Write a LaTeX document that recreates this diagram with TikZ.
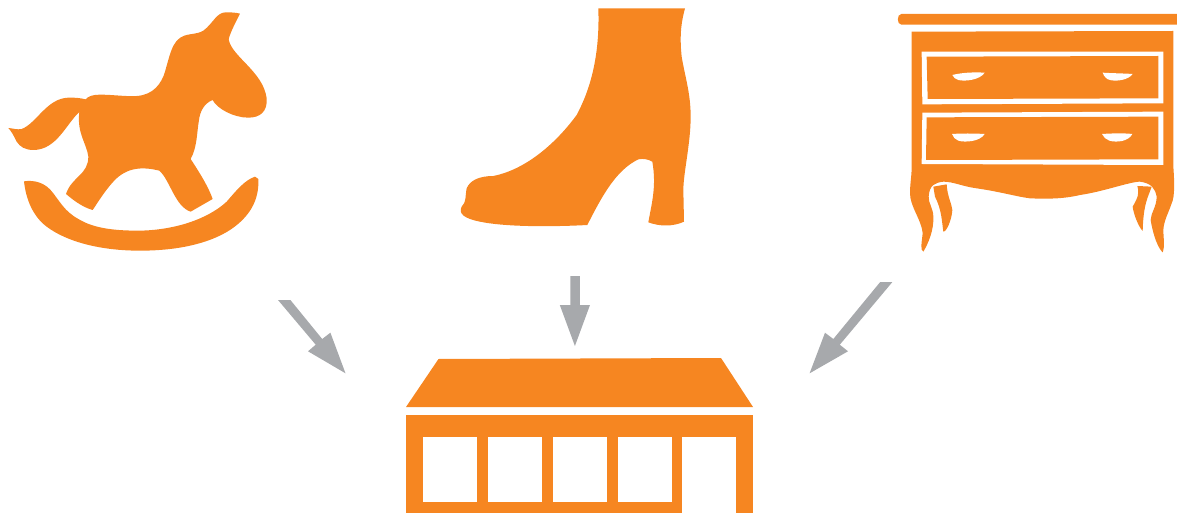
\documentclass[tikz,border=0pt]{standalone}
\definecolor{brandorange}{HTML}{F68621}
\definecolor{arrowgray}{HTML}{A7A9AC}
\tikzset{
  iconfill/.style={fill=brandorange,draw=none},
  arrowfill/.style={fill=arrowgray,draw=none},
  cutfill/.style={fill=white,draw=none},
  zoomed/.style={x=0.33333pt,y=-0.33333pt}
}
\begin{document}
\begin{tikzpicture}[x=1pt,y=-1pt]
\useasboundingbox (0,0) rectangle (1177,513);
% rocking horse
\begin{scope}[zoomed]
\fill[iconfill] (720,41) .. controls (705,70) and (690,100) .. (686,118)
 .. controls (695,170) and (790,215) .. (800,295)
 .. controls (803,335) and (780,353) .. (745,353)
 .. controls (700,353) and (650,325) .. (638,300)
 .. controls (612,310) and (600,335) .. (597,360)
 .. controls (590,400) and (592,440) .. (572,477)
 .. controls (600,520) and (625,560) .. (638,597)
 -- (572,635)
 .. controls (525,620) and (510,540) .. (478,512)
 .. controls (430,500) and (380,500) .. (340,545)
 .. controls (315,572) and (295,605) .. (278,630)
 .. controls (250,622) and (225,605) .. (198,582)
 .. controls (215,530) and (265,525) .. (265,470)
 .. controls (260,430) and (230,400) .. (238,336)
 .. controls (200,370) and (170,450) .. (100,450)
 .. controls (75,450) and (60,440) .. (50,425)
 .. controls (40,405) and (35,395) .. (25,384)
 .. controls (40,385) and (50,390) .. (65,387)
 .. controls (110,370) and (140,295) .. (205,293)
 .. controls (225,292) and (245,295) .. (257,298)
 .. controls (265,288) and (280,284) .. (300,284)
 .. controls (340,284) and (375,290) .. (410,288)
 .. controls (460,285) and (485,250) .. (495,215)
 .. controls (515,145) and (520,110) .. (570,103)
 .. controls (590,100) and (600,98) .. (610,92)
 .. controls (640,70) and (650,35) .. (680,37)
 .. controls (695,37) and (710,38) .. (720,41) -- cycle;
\fill[iconfill] (72,544) .. controls (100,540) and (135,545) .. (160,580)
 .. controls (190,620) and (200,640) .. (250,665)
 .. controls (300,690) and (370,692) .. (420,692)
 .. controls (520,690) and (620,660) .. (680,605)
 .. controls (710,570) and (735,540) .. (765,530)
 -- (775,537)
 .. controls (778,600) and (750,650) .. (690,690)
 .. controls (620,735) and (520,752) .. (420,752)
 .. controls (300,752) and (200,725) .. (140,680)
 .. controls (100,650) and (78,600) .. (72,544) -- cycle;
\end{scope}
% boot
\begin{scope}[shift={(440,0)},zoomed]
\fill[iconfill] (475,25) -- (735,25)
 .. controls (720,80) and (720,120) .. (725,170)
 .. controls (735,230) and (752,280) .. (752,350)
 .. controls (752,430) and (730,520) .. (730,570)
 -- (732,665)
 .. controls (700,680) and (660,680) .. (625,667)
 .. controls (635,610) and (650,560) .. (637,485)
 .. controls (625,478) and (610,475) .. (595,478)
 .. controls (530,510) and (490,580) .. (442,675)
 .. controls (350,680) and (200,682) .. (120,665)
 .. controls (70,655) and (55,640) .. (65,620)
 .. controls (80,605) and (75,590) .. (80,565)
 .. controls (90,540) and (120,528) .. (160,528)
 .. controls (250,510) and (340,440) .. (410,345)
 .. controls (450,270) and (480,170) .. (475,25) -- cycle;
\end{scope}
% chest of drawers
\begin{scope}[shift={(890,0)},zoomed]
\fill[iconfill] (861,42) -- (34,42) .. controls (20,42) and (20,74) .. (34,74) -- (861,74) -- cycle;
\fill[iconfill] (65,95) -- (850,93) -- (850,500)
 .. controls (853,540) and (855,590) .. (845,610)
 .. controls (835,640) and (822,660) .. (820,690)
 .. controls (820,710) and (825,740) .. (818,757)
 .. controls (805,745) and (790,710) .. (782,660)
 .. controls (782,640) and (800,620) .. (800,590)
 .. controls (795,565) and (785,550) .. (750,545)
 .. controls (720,545) and (640,575) .. (570,585)
 .. controls (520,597) and (470,597) .. (420,595)
 .. controls (380,590) and (330,575) .. (260,565)
 .. controls (220,560) and (190,545) .. (160,545)
 .. controls (135,548) and (118,555) .. (116,590)
 .. controls (115,610) and (130,625) .. (130,650)
 .. controls (132,690) and (115,730) .. (100,755)
 .. controls (90,750) and (95,730) .. (98,700)
 .. controls (95,660) and (60,620) .. (60,580)
 .. controls (60,550) and (65,530) .. (65,500) -- cycle;
\fill[iconfill] (130,560) -- (170,553) .. controls (172,590) and (185,610) .. (187,630)
 .. controls (185,660) and (170,695) .. (160,695)
 .. controls (155,660) and (155,630) .. (135,590) -- cycle;
\fill[iconfill] (742,558) -- (785,560) .. controls (775,590) and (760,610) .. (758,693)
 .. controls (745,680) and (730,640) .. (728,620)
 .. controls (745,590) and (748,580) .. (742,558) -- cycle;
\fill[cutfill] (95,155) -- (820,155) -- (820,310) -- (97,313) -- cycle;
\fill[iconfill] (110,170) -- (805,168) -- (805,295) -- (113,297) -- cycle;
\fill[cutfill] (97,338) -- (820,335) -- (820,495) -- (95,492) -- cycle;
\fill[iconfill] (110,352) -- (805,350) -- (805,478) -- (108,480) -- cycle;
\fill[cutfill] (187,225) .. controls (215,218) and (250,216) .. (284,218) .. controls (270,240) and (225,245) .. (205,240) .. controls (197,238) and (190,232) .. (187,225) -- cycle;
\fill[cutfill] (638,218) .. controls (670,220) and (700,220) .. (728,222) .. controls (715,240) and (680,245) .. (660,240) .. controls (650,238) and (642,230) .. (638,218) -- cycle;
\fill[cutfill] (186,402) .. controls (215,400) and (250,400) .. (284,402) .. controls (270,425) and (225,428) .. (205,422) .. controls (195,418) and (190,412) .. (186,402) -- cycle;
\fill[cutfill] (636,402) .. controls (665,400) and (700,399) .. (727,402) .. controls (715,425) and (680,428) .. (658,422) .. controls (648,418) and (640,412) .. (636,402) -- cycle;
\end{scope}
% store
\fill[iconfill] (438.5,359) -- (721,358) -- (753,407) -- (406,407) -- cycle;
\fill[iconfill] (406,415) -- (753,415) -- (753,513) -- (406,513) -- cycle;
\fill[cutfill] (423,437) rectangle (477,501.5);
\fill[cutfill] (487.5,437) rectangle (541.5,501.5);
\fill[cutfill] (552.5,437) rectangle (606.5,501.5);
\fill[cutfill] (617.5,437) rectangle (671.5,501.5);
\fill[cutfill] (682,437) rectangle (736,513);
% arrows
\fill[arrowfill] (278,300) -- (290.4,300) -- (322.2,339) -- (330.4,332.7) -- (345.5,373.3) -- (308,351.3) -- (315.7,344.7) -- cycle;
\fill[arrowfill] (570.4,276) -- (579.8,276) -- (579.8,305) -- (590,305) -- (574.9,346) -- (559.8,305) -- (570.4,305) -- cycle;
\fill[arrowfill] (892.4,282) -- (880.2,282) -- (833.3,339) -- (825,332.7) -- (809.6,373.3) -- (848,351.3) -- (839.8,344.7) -- cycle;
\end{tikzpicture}
\end{document}
